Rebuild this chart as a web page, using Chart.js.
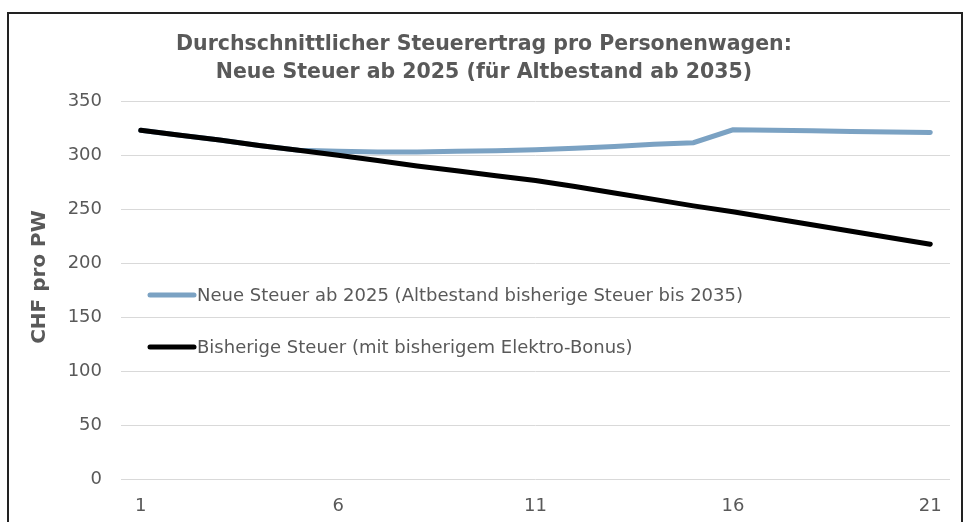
<!DOCTYPE html>
<html>
<head>
<meta charset="utf-8">
<script src="https://cdn.jsdelivr.net/npm/chart.js"></script>
<style>
  html, body { margin: 0; padding: 0; background: #fff; overflow: hidden; }
  #frame { position: absolute; left: 7px; top: 12px; width: 952px; height: 600px; border: 2px solid #222; }
  #wrap { position: absolute; left: 0; top: 0; width: 968px; height: 522px; }
</style>
</head>
<body>
<div id="frame"></div>
<div id="wrap"><canvas id="steuerChart" width="968" height="522"></canvas></div>
<script>
// Jahre 1..21 (Kategorien)
var jahre = ['1','2','3','4','5','6','7','8','9','10','11','12','13','14','15','16','17','18','19','20','21'];

var neueSteuer = [323, 318.5, 314, 309, 304.5, 303.5, 303, 303, 303.5, 304, 305, 306.5, 308, 310, 311.5, 323.5, 323, 322.5, 322, 321.5, 321];
var bisherigeSteuer = [323, 318.5, 314, 309, 304.5, 300, 295, 290, 285.5, 281, 276.5, 271, 265, 259, 253, 247.5, 241.5, 235.5, 229.5, 223.5, 217.5];

var labelNeu = 'Neue Steuer ab 2025 (Altbestand bisherige Steuer bis 2035)';
var labelBisher = 'Bisherige Steuer (mit bisherigem Elektro-Bonus)';
var achsenTitel = 'CHF pro PW';

var textGrau = '#595959';
var schrift = '"DejaVu Sans", sans-serif';

// Legende innerhalb der Grafik + Achsentitel zeichnen
var innenLegende = {
    id: 'innenLegende',
    afterDraw: function(chart) {
        var ctx = chart.ctx;
        var pos = [
            { ds: 1, y: 295 },
            { ds: 0, y: 347 }
        ];
        ctx.save();
        ctx.font = '18px ' + schrift;
        ctx.textBaseline = 'middle';
        ctx.lineCap = 'round';
        pos.forEach(function(p) {
            var ds = chart.data.datasets[p.ds];
            ctx.strokeStyle = ds.borderColor;
            ctx.lineWidth = 5;
            ctx.beginPath();
            ctx.moveTo(150, p.y);
            ctx.lineTo(194, p.y);
            ctx.stroke();
            ctx.fillStyle = textGrau;
            ctx.fillText(ds.label, 197, p.y + 1);
        });
        // y-Achsentitel
        ctx.translate(40, 277);
        ctx.rotate(-Math.PI / 2);
        ctx.textAlign = 'center';
        ctx.font = 'bold 20px ' + schrift;
        ctx.fillText(achsenTitel, 0, 0);
        ctx.restore();
    }
};

document.addEventListener('DOMContentLoaded', function() {
    var ctx = document.getElementById('steuerChart').getContext('2d');
    var steuerChart = new Chart(ctx, {
        type: 'line',
        data: {
            labels: jahre,
            datasets: [
                {
                    label: labelBisher,
                    data: bisherigeSteuer,
                    borderColor: '#000000',
                    borderWidth: 5,
                    borderCapStyle: 'round',
                    pointRadius: 0,
                    tension: 0,
                    order: 0
                },
                {
                    label: labelNeu,
                    data: neueSteuer,
                    borderColor: '#7ba2c3',
                    borderWidth: 5,
                    borderCapStyle: 'round',
                    pointRadius: 0,
                    tension: 0,
                    order: 1
                }
            ]
        },
        options: {
            responsive: false,
            animation: false,
            layout: { padding: { left: 18, right: 18, top: 0, bottom: 3 } },
            plugins: {
                legend: { display: false },
                tooltip: { enabled: false },
                title: {
                    display: true,
                    text: ['Durchschnittlicher Steuerertrag pro Personenwagen:', 'Neue Steuer ab 2025 (für Altbestand ab 2035)'],
                    color: textGrau,
                    font: { family: schrift, size: 20.5, weight: 'bold', lineHeight: 1.37 },
                    padding: { top: 31, bottom: 14 }
                }
            },
            scales: {
                x: {
                    offset: true,
                    grid: { display: false },
                    border: { display: false },
                    ticks: {
                        autoSkip: false,
                        maxRotation: 0,
                        padding: 9,
                        color: textGrau,
                        font: { family: schrift, size: 18 },
                        callback: function(val, i) { return i % 5 === 0 ? jahre[i] : ''; }
                    },
                    afterFit: function(s) { s.height = 40; }
                },
                y: {
                    min: 0,
                    max: 350,
                    grid: { color: '#d9d9d9', lineWidth: 1, drawTicks: false },
                    border: { display: false },
                    ticks: {
                        stepSize: 50,
                        padding: 19,
                        color: textGrau,
                        font: { family: schrift, size: 18 }
                    },
                    afterFit: function(s) { s.width = 103; }
                }
            }
        },
        plugins: [innenLegende]
    });
});
</script>
</body>
</html>
